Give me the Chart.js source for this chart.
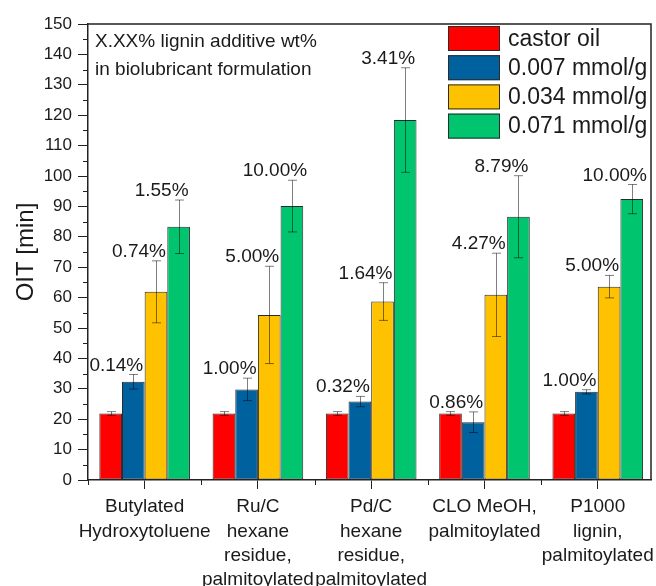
<!DOCTYPE html>
<html>
<head>
<meta charset="utf-8">
<title>OIT of biolubricant formulations</title>
<script src="https://cdn.jsdelivr.net/npm/chart.js@4.4.0/dist/chart.umd.min.js"></script>
<style>
  html, body { margin: 0; padding: 0; background: #ffffff; }
  #wrap { width: 656px; height: 586px; }
</style>
</head>
<body>
<div id="wrap"><canvas id="oit" width="656" height="586"></canvas></div>
<script>
// Additives (x categories), one multi-line label each
const categories = [
  ['Butylated', 'Hydroxytoluene'],
  ['Ru/C', 'hexane', 'residue,', 'palmitoylated'],
  ['Pd/C', 'hexane', 'residue,', 'palmitoylated'],
  ['CLO MeOH,', 'palmitoylated'],
  ['P1000', 'lignin,', 'palmitoylated']
];

const seriesNames = ['castor oil', '0.007 mmol/g', '0.034 mmol/g', '0.071 mmol/g'];

// Oxidation induction time [min] with standard deviations
const castorOil    = [21.9, 21.9, 21.9, 21.9, 21.9];
const castorOilErr = [0.6, 0.6, 0.6, 0.6, 0.6];

const conc007    = [32.3, 29.8, 25.8, 19.0, 29.0];
const conc007Err = [2.4, 3.7, 1.7, 3.4, 0.7];
const conc007Wt  = ['0.14%', '1.00%', '0.32%', '0.86%', '1.00%'];

const conc034    = [61.9, 54.3, 58.7, 60.9, 63.6];
const conc034Err = [10.2, 16.0, 6.2, 13.7, 3.7];
const conc034Wt  = ['0.74%', '5.00%', '1.64%', '4.27%', '5.00%'];

const conc071    = [83.3, 90.1, 118.4, 86.6, 92.4];
const conc071Err = [8.8, 8.5, 17.2, 13.5, 4.8];
const conc071Wt  = ['1.55%', '10.00%', '3.41%', '8.79%', '10.00%'];

const yMin = 0, yMax = 150, yStep = 10;
const noteLines = ['X.XX% lignin additive wt%', 'in biolubricant formulation'];

const FONT = '"Liberation Sans", Arial, Helvetica, sans-serif';
const INK = '#1a1a1a';
const AXIS = '#222222';

Chart.defaults.font.family = FONT;
Chart.defaults.color = INK;

const toPoints = vals => vals.map((v, i) => ({ x: i + 1, y: v }));

const seriesValues = [castorOil, conc007, conc034, conc071];
const seriesErrors = [castorOilErr, conc007Err, conc034Err, conc071Err];
const seriesWt     = [null, conc007Wt, conc034Wt, conc071Wt];
const seriesColors = ['#ff0000', '#00619f', '#ffc200', '#00c46e'];

const datasets = seriesNames.map((name, k) => ({
  label: name,
  data: toPoints(seriesValues[k]),
  errors: seriesErrors[k],
  wt: seriesWt[k],
  backgroundColor: seriesColors[k],
  borderColor: '#2b2b2b',
  borderWidth: 1,
  borderSkipped: false,
  categoryPercentage: 0.8,
  barPercentage: 1.0
}));

// Error bars: semi-transparent so they read grey on white and dark over the bars
const errorBars = {
  id: 'errorBars',
  afterDatasetsDraw(chart) {
    const { ctx, scales: { y } } = chart;
    ctx.save();
    ctx.strokeStyle = 'rgba(0,0,0,0.5)';
    ctx.lineWidth = 1;
    chart.data.datasets.forEach((ds, di) => {
      const meta = chart.getDatasetMeta(di);
      meta.data.forEach((bar, i) => {
        const v = ds.data[i].y, e = ds.errors[i];
        const top = y.getPixelForValue(v + e);
        const bot = y.getPixelForValue(v - e);
        const x = Math.round(bar.x) + 0.5;
        ctx.beginPath();
        ctx.moveTo(x, top); ctx.lineTo(x, bot);
        ctx.moveTo(x - 4.5, top); ctx.lineTo(x + 4.5, top);
        ctx.moveTo(x - 4.5, bot); ctx.lineTo(x + 4.5, bot);
        ctx.stroke();
      });
    });
    ctx.restore();
  }
};

// Additive wt% labels above the error bars
const wtLabels = {
  id: 'wtLabels',
  afterDatasetsDraw(chart) {
    const { ctx, scales: { y } } = chart;
    ctx.save();
    ctx.font = '19px ' + FONT;
    ctx.fillStyle = INK;
    ctx.textAlign = 'center';
    ctx.textBaseline = 'alphabetic';
    chart.data.datasets.forEach((ds, di) => {
      if (!ds.wt) return;
      const meta = chart.getDatasetMeta(di);
      meta.data.forEach((bar, i) => {
        const top = y.getPixelForValue(ds.data[i].y + ds.errors[i]);
        ctx.fillText(ds.wt[i], bar.x - 17, top - 4);
      });
    });
    ctx.restore();
  }
};

// Box frame, minor ticks, note text and legend
const decorations = {
  id: 'decorations',
  afterDraw(chart) {
    const { ctx, chartArea: a, scales: { x, y } } = chart;
    ctx.save();
    ctx.strokeStyle = AXIS;
    ctx.lineWidth = 1.5;
    ctx.beginPath();
    ctx.moveTo(a.left, a.top); ctx.lineTo(a.right, a.top); ctx.lineTo(a.right, a.bottom);
    ctx.stroke();

    ctx.lineWidth = 1;
    ctx.beginPath();
    for (let v = yMin + yStep / 2; v < yMax; v += yStep) {
      const py = Math.round(y.getPixelForValue(v)) + 0.5;
      ctx.moveTo(a.left - 5, py); ctx.lineTo(a.left, py);
    }
    for (let i = 0; i < categories.length; i++) {
      const px = Math.round(x.getPixelForValue(i + 0.5)) + 0.5;
      ctx.moveTo(px, a.bottom); ctx.lineTo(px, a.bottom + 5);
    }
    ctx.stroke();

    ctx.fillStyle = INK;
    ctx.font = '19px ' + FONT;
    ctx.textAlign = 'left';
    ctx.textBaseline = 'alphabetic';
    ctx.fillText(noteLines[0], a.left + 7, 47);
    ctx.fillText(noteLines[1], a.left + 7, 75);

    const bx = 448, by0 = 26, bw = 52, bh = 25, step = 29.2;
    ctx.font = '23px ' + FONT;
    ctx.textBaseline = 'middle';
    chart.data.datasets.forEach((ds, k) => {
      const by = by0 + k * step;
      ctx.fillStyle = ds.backgroundColor;
      ctx.fillRect(bx, by, bw, bh);
      ctx.strokeStyle = '#2b2b2b';
      ctx.lineWidth = 1;
      ctx.strokeRect(bx + 0.5, by + 0.5, bw - 1, bh - 1);
      ctx.fillStyle = INK;
      ctx.fillText(ds.label, bx + 60, by + bh / 2 + 1);
    });
    ctx.restore();
  }
};

new Chart(document.getElementById('oit'), {
  type: 'bar',
  data: { datasets },
  options: {
    responsive: false,
    animation: false,
    devicePixelRatio: 1,
    layout: { padding: { top: 24, right: 5, left: 0, bottom: 0 } },
    plugins: {
      legend: { display: false },
      tooltip: { enabled: false }
    },
    scales: {
      x: {
        type: 'linear',
        min: 0.5,
        max: 5.47,
        offset: false,
        afterFit: s => { s.height = 106; s.paddingLeft = 0; s.paddingRight = 0; },
        afterBuildTicks: s => { s.ticks = categories.map((c, i) => ({ value: i + 1 })); },
        grid: { display: true, offset: false, drawOnChartArea: false, tickLength: 9, tickColor: AXIS, tickWidth: 1 },
        border: { display: true, color: AXIS, width: 1.5 },
        ticks: {
          autoSkip: false,
          maxRotation: 0,
          minRotation: 0,
          padding: 6,
          color: INK,
          font: { size: 19, lineHeight: 1.28 },
          callback: v => categories[Math.round(v) - 1] || ''
        }
      },
      y: {
        min: yMin,
        max: yMax,
        afterFit: s => { s.width = 88; s.paddingTop = 0; s.paddingBottom = 0; },
        grid: {
          display: true,
          drawOnChartArea: false,
          tickLength: 10,
          tickWidth: 1,
          tickColor: c => (c.tick && c.tick.value % yStep === 0) ? AXIS : 'rgba(0,0,0,0)'
        },
        border: { display: true, color: AXIS, width: 1.5 },
        ticks: {
          stepSize: yStep / 2,
          padding: 6,
          color: INK,
          font: { size: 17 },
          callback: v => (v % yStep === 0 ? String(v) : '')
        },
        title: {
          display: true,
          text: 'OIT [min]',
          color: INK,
          font: { size: 24 },
          padding: { top: 12, bottom: 0 }
        }
      }
    }
  },
  plugins: [errorBars, wtLabels, decorations]
});
</script>
</body>
</html>
